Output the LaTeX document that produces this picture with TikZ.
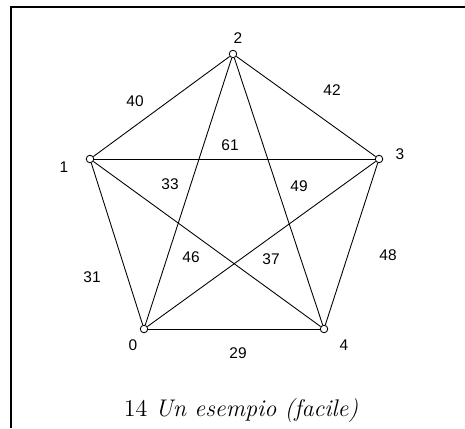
\documentclass[tikz,border=0pt]{standalone}
\usepackage{fontspec}
\newfontfamily\lblfont{Liberation Sans}
\usetikzlibrary{positioning}

\begin{document}
\begin{tikzpicture}[
    x=0.02cm, y=-0.02cm,
    vtx/.style={draw, circle, fill=white, inner sep=0pt, minimum size=0.15cm, line width=0.5pt},
    edg/.style={line width=0.5pt},
    lbl/.style={font=\lblfont\fontsize{8.8}{10}\selectfont, inner sep=1pt}
]
\useasboundingbox (0,0) rectangle (465,428);
% frame
\draw[line width=1.3pt] (11,428) -- (11,7) -- (465,7);

\node[vtx] (v0) at (144,329) {};
\node[vtx] (v1) at (90,159) {};
\node[vtx] (v2) at (233,54) {};
\node[vtx] (v3) at (379,159) {};
\node[vtx] (v4) at (324,329) {};

\node[lbl] (n0) at (133,345) {0};
\node[lbl] (n1) at (64,167) {1};
\node[lbl] (n2) at (238,38) {2};
\node[lbl] (n3) at (400,154) {3};
\node[lbl] (n4) at (344,345) {4};

% outer edges
\draw[edg] (v0) -- (v1);
\draw[edg] (v1) -- (v2);
\draw[edg] (v2) -- (v3);
\draw[edg] (v3) -- (v4);
\draw[edg] (v4) -- (v0);
% inner edges
\draw[edg] (v1) -- (v3);
\draw[edg] (v1) -- (v4);
\draw[edg] (v2) -- (v0);
\draw[edg] (v2) -- (v4);
\draw[edg] (v3) -- (v0);

% weights
\node[lbl] (w12) at (135,101) {40};
\node[lbl] (w23) at (332,90) {42};
\node[lbl] (w13) at (230,145) {61};
\node[lbl] (w02) at (170,184) {33};
\node[lbl] (w24) at (299,186) {49};
\node[lbl] (w14) at (191,257) {46};
\node[lbl] (w03) at (271,259) {37};
\node[lbl] (w01) at (92,277) {31};
\node[lbl] (w34) at (388,255) {48};
\node[lbl] (w04) at (238,353) {29};

\node[font=\fontsize{13.7}{16}\selectfont] (cap) at (241,410) {14 \textit{Un esempio (facile)}};
\end{tikzpicture}
\end{document}
